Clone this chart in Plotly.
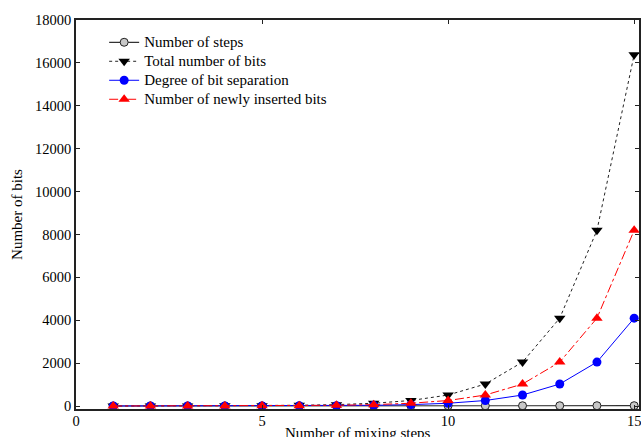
import plotly.graph_objects as go

steps_x = [1, 2, 3, 4, 5, 6, 7, 8, 9, 10, 11, 12, 13, 14, 15]
number_of_steps = [1, 2, 3, 4, 5, 6, 7, 8, 9, 10, 11, 12, 13, 14, 15]
total_bits = [1, 2, 4, 8, 16, 32, 64, 128, 256, 512, 1024, 2048, 4096, 8192, 16384]
bit_separation = [1, 1, 1, 2, 4, 8, 16, 32, 64, 128, 256, 512, 1024, 2048, 4096]
newly_inserted = [1, 1, 2, 4, 8, 16, 32, 64, 128, 256, 512, 1024, 2048, 4096, 8192]

series_names = ["Number of steps", "Total number of bits",
                "Degree of bit separation", "Number of newly inserted bits"]
x_title = "Number of mixing steps"
y_title = "Number of bits"

FONT = "Liberation Serif, Times New Roman, serif"


def legend_label(txt):
    return '<span style="font-size:15px">' + txt + '</span>'


fig = go.Figure()
fig.add_trace(go.Scatter(
    x=steps_x, y=number_of_steps, name=legend_label(series_names[0]), mode="lines+markers",
    line=dict(color="#333333", width=1.2, dash="solid"),
    marker=dict(symbol="circle", size=8, color="#c8c8c8", line=dict(color="#222222", width=1)),
))
fig.add_trace(go.Scatter(
    x=steps_x, y=total_bits, name=legend_label(series_names[1]), mode="lines+markers",
    line=dict(color="#222222", width=1, dash="dot"),
    marker=dict(symbol="triangle-down", size=10, color="black"),
))
fig.add_trace(go.Scatter(
    x=steps_x, y=bit_separation, name=legend_label(series_names[2]), mode="lines+markers",
    line=dict(color="blue", width=1, dash="solid"),
    marker=dict(symbol="circle", size=9, color="blue"),
))
fig.add_trace(go.Scatter(
    x=steps_x, y=newly_inserted, name=legend_label(series_names[3]), mode="lines+markers",
    line=dict(color="red", width=1, dash="dashdot"),
    marker=dict(symbol="triangle-up", size=10, color="red"),
))

axis_common = dict(
    showgrid=False, zeroline=False, showline=True, linecolor="#222222", linewidth=1.6,
    ticks="inside", ticklen=4, tickcolor="#222222", mirror="ticks",
    tickfont=dict(family=FONT, size=14.5, color="black"), automargin=False,
)

fig.update_layout(
    width=641, height=437,
    margin=dict(l=76, r=2, t=20, b=28),
    paper_bgcolor="white", plot_bgcolor="white",
    font=dict(family=FONT, size=14, color="black"),
    xaxis=dict(range=[0, 15.13], tickvals=[0, 5, 10, 15],
               ticklabeloverflow="allow", ticklabelstandoff=-2,
               **axis_common),
    yaxis=dict(range=[-140, 18000], tickvals=list(range(0, 18001, 2000)), tickformat="d",
               title=dict(text=y_title, standoff=9,
                          font=dict(family=FONT, size=15)),
               **axis_common),
    legend=dict(x=0.05, y=0.98, xanchor="left", yanchor="top",
                bgcolor="rgba(0,0,0,0)", borderwidth=0,
                font=dict(family=FONT, size=12), tracegroupgap=0),
    showlegend=True,
    annotations=[dict(text=x_title, xref="paper", yref="paper", x=0.5, y=-0.036,
                      xanchor="center", yanchor="top", showarrow=False,
                      font=dict(family=FONT, size=15, color="black"))],
)

fig.write_html("out.html")
